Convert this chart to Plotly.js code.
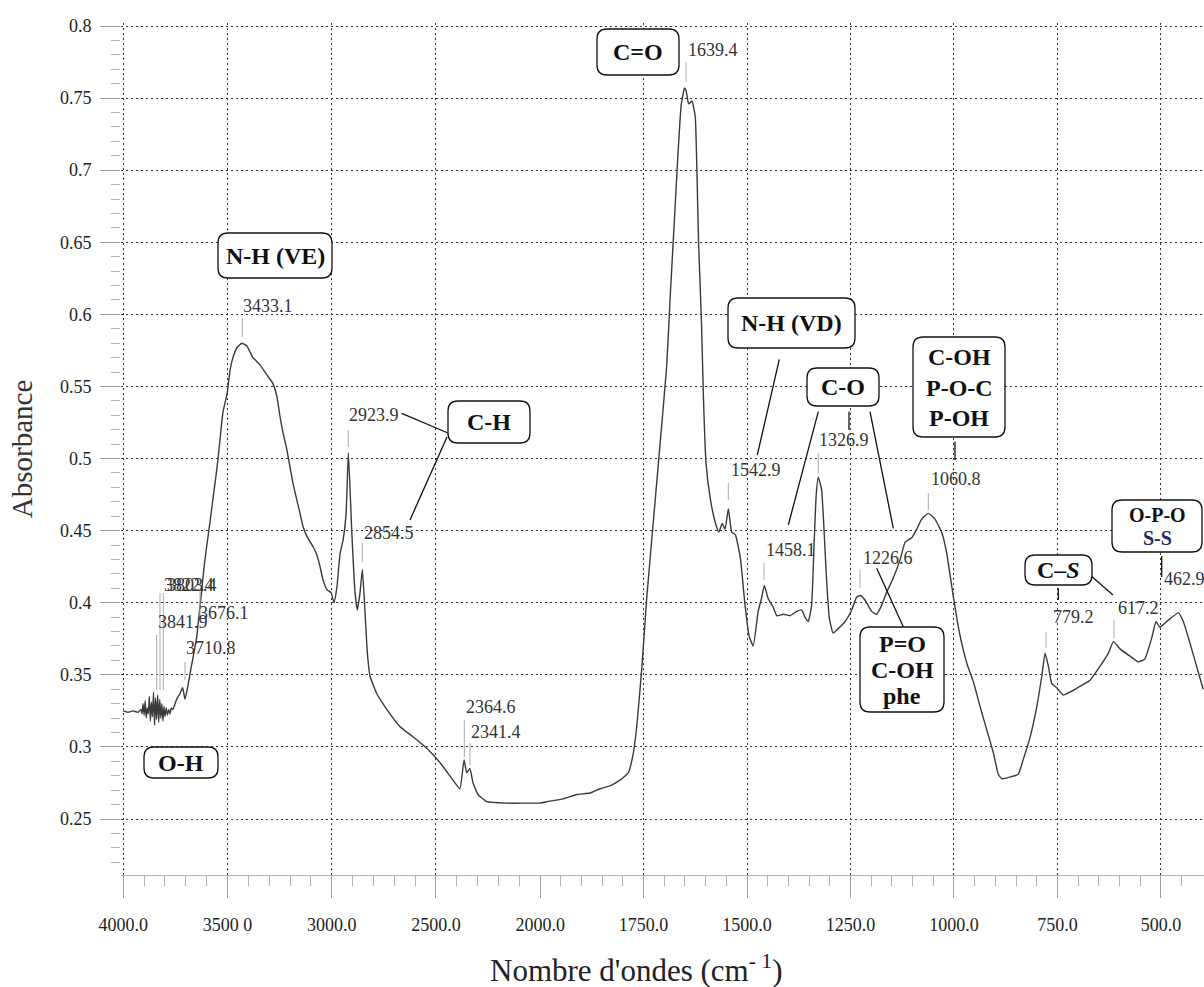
<!DOCTYPE html>
<html>
<head>
<meta charset="utf-8">
<script src="https://cdn.plot.ly/plotly-3.0.1.min.js"></script>
<style>html,body{margin:0;padding:0;background:#fff}#chart{width:1204px;height:987px}</style>
</head>
<body>
<div id="chart"></div>
<script>
// ---------------- DATA ----------------
const wavenumber = [
 4000,3977,3954,3930,3915,
 3910,3905,3900,3895,3890,3885,3880,3875,3870,3865,3860,3855,3850,3845,3840,3835,3830,3825,3820,3815,3810,3805,3800,3794,3788,3782,3776,3770,
 3762,3744,3728,3715,3704,3688,3677,3664,3648,3637,3624,3613,3600,3584,3568,3550,3536,3522,3502,3488,3474,3454,3431,3407,3378,3344,3311,3282,3263,3248,3234,3215,3200,3186,3167,3152,3138,3119,3090,3071,3056,3042,3023,3003,2989,2975,2960,2946,2931,2920,2904,2888,2877,2864,2853,2840,2829,2816,2784,2736,2672,2610,2544,2480,2418,2385,2365,2352,2337,2322,2298,2256,2160,2065,
 2000,1984,1944,1911,1879,1855,1831,1807,1787,1775,1766,1754,1742,1726,1710,1694,1685,1676,1667,1659,1651,1647,1641,1633,1625,1621,1617,1610,1605,1599,1588,1576,1568,1560,1553,1545,1537,1528,1516,1505,1495,1485,1473,1465,1458,1449,1437,1428,1412,1396,1380,1368,1360,1352,1344,1338,1333,1328,1320,1314,1308,1301,1292,1280,1263,1247,1235,1225,1213,1199,1187,1175,1163,1147,1130,1118,1102,1090,1078,1062,1046,1030,1018,1002,986,969,953,937,921,905,893,885,865,845,833,816,800,788,780,772,764,752,736,720,696,672,647,627,615,599,575,555,539,522,512,503,494,478,458,446,430,414,398
];
const absorbance = [
 0.325,0.324,0.325,0.324,0.326,
 0.323,0.330,0.322,0.332,0.320,0.327,0.323,0.335,0.318,0.331,0.321,0.338,0.315,0.334,0.319,0.336,0.317,0.333,0.320,0.330,0.318,0.328,0.321,0.327,0.322,0.326,0.323,0.327,
 0.326,0.333,0.337,0.341,0.333,0.344,0.353,0.363,0.376,0.391,0.408,0.424,0.439,0.456,0.474,0.494,0.513,0.532,0.545,0.561,0.570,0.577,0.580,0.578,0.570,0.565,0.558,0.552,0.543,0.529,0.518,0.506,0.494,0.483,0.471,0.462,0.453,0.446,0.439,0.433,0.425,0.416,0.409,0.407,0.400,0.411,0.434,0.443,0.462,0.504,0.450,0.407,0.395,0.407,0.423,0.393,0.365,0.349,0.337,0.326,0.314,0.307,0.299,0.289,0.277,0.271,0.291,0.282,0.285,0.275,0.267,0.262,0.261,0.261,
 0.261,0.262,0.264,0.267,0.268,0.271,0.273,0.277,0.282,0.295,0.315,0.355,0.404,0.457,0.510,0.564,0.615,0.662,0.710,0.745,0.757,0.755,0.746,0.748,0.737,0.700,0.650,0.595,0.540,0.497,0.471,0.455,0.449,0.455,0.451,0.465,0.449,0.447,0.431,0.399,0.377,0.370,0.394,0.403,0.412,0.403,0.397,0.391,0.392,0.391,0.394,0.395,0.390,0.387,0.398,0.440,0.474,0.487,0.479,0.451,0.417,0.389,0.379,0.382,0.387,0.395,0.404,0.405,0.401,0.394,0.392,0.398,0.407,0.417,0.430,0.442,0.445,0.451,0.458,0.462,0.458,0.449,0.435,0.405,0.378,0.358,0.345,0.328,0.312,0.296,0.281,0.278,0.279,0.281,0.291,0.307,0.328,0.349,0.365,0.356,0.344,0.341,0.336,0.338,0.342,0.346,0.356,0.365,0.373,0.368,0.363,0.359,0.361,0.376,0.387,0.383,0.385,0.389,0.393,0.387,0.372,0.356,0.340
];

const xTickVals1 = [4000, 3500, 3000, 2500, 2000];
const xTickText1 = ['4000.0', '3500 0', '3000.0', '2500.0', '2000.0'];
const xTickVals2 = [1750, 1500, 1250, 1000, 750, 500];
const xTickText2 = ['1750.0', '1500.0', '1250.0', '1000.0', '750.0', '500.0'];
const yTickVals = [0.25, 0.3, 0.35, 0.4, 0.45, 0.5, 0.55, 0.6, 0.65, 0.7, 0.75, 0.8];
const yTickText = ['0.25', '0.3', '0.35', '0.4', '0.45', '0.5', '0.55', '0.6', '0.65', '0.7', '0.75', '0.8'];

const peakLabels = ['3433.1','2923.9','2854.5','2364.6','2341.4','1639.4','1542.9','1458.1','1326.9','1226.6','1060.8','779.2','617.2','462.9','3841.9','3822.4','3803.4','3676.1','3710.8'];
const bandLabels = [['N-H (VE)'], ['C-H'], ['C=O'], ['N-H (VD)'], ['C-O'], ['C-OH','P-O-C','P-OH'], ['P=O','C-OH','phe'], ['C–<i>S</i>'], ['O-P-O','S-S'], ['O-H']];

const xTitle = "Nombre d'ondes (cm<sup>- 1</sup>)";
const yTitle = 'Absorbance';

// ---------------- GEOMETRY / STYLE ----------------
const W = 1204, H = 987, ML = 121, MR = 0, MT = 23, MB = 112;
const PW = W - ML - MR, PH = H - MT - MB;
const fx = x => (x - ML) / PW;           // design pixel -> paper
const fy = y => (H - MB - y) / PH;

const serif = 'Liberation Serif, Times New Roman, serif';

// split data at the scale change (2000 cm-1)
const leftX = [], leftY = [], rightX = [], rightY = [];
wavenumber.forEach((w, i) => {
  if (w >= 2000) { leftX.push(w); leftY.push(absorbance[i]); }
  if (w <= 2000) { rightX.push(w); rightY.push(absorbance[i]); }
});

const lineStyle = {color: '#3a3a3a', width: 1.4, shape: 'spline', smoothing: 0.4};
const traces = [
  {x: leftX, y: leftY, xaxis: 'x', yaxis: 'y', type: 'scatter', mode: 'lines', line: lineStyle, hoverinfo: 'skip'},
  {x: rightX, y: rightY, xaxis: 'x2', yaxis: 'y', type: 'scatter', mode: 'lines', line: lineStyle, hoverinfo: 'skip'}
];

const minorY = []; for (let v = 22; v <= 80; v++) if (v % 5) minorY.push(v / 100);
const minorX1 = []; for (let v = 2100; v <= 3900; v += 100) if (v % 500) minorX1.push(v);
const minorX2 = []; for (let v = 450; v <= 1950; v += 50) if (v % 250) minorX2.push(v);

const gridStyle = {showgrid: true, gridcolor: '#333', gridwidth: 1, griddash: '2px,3px'};
const xCommon = Object.assign({
  anchor: 'y', tickmode: 'array', ticks: 'outside', ticklen: 22, tickwidth: 1, tickcolor: '#a0a0a0',
  showline: true, linecolor: '#b0b0b0', linewidth: 1, zeroline: false, fixedrange: true,
  tickfont: {family: serif, size: 18, color: '#222'}, ticklabelstandoff: 11
}, gridStyle);

const layout = {
  width: W, height: H,
  margin: {l: ML, r: MR, t: MT, b: MB, pad: 0},
  paper_bgcolor: '#fff', plot_bgcolor: '#fff',
  showlegend: false,
  font: {family: serif, color: '#222', size: 18},
  xaxis: Object.assign({}, xCommon, {
    domain: [0, (542 - ML) / PW], range: [4011, 1991.1],
    tickvals: xTickVals1, ticktext: xTickText1,
    minor: {tickmode: 'array', tickvals: minorX1, ticks: 'outside', ticklen: 10, tickcolor: '#b0b0b0', showgrid: false}
  }),
  xaxis2: Object.assign({}, xCommon, {
    domain: [(540 - ML) / PW, 1], range: [2000, 396.1],
    tickvals: xTickVals2, ticktext: xTickText2,
    minor: {tickmode: 'array', tickvals: minorX2, ticks: 'outside', ticklen: 10, tickcolor: '#b0b0b0', showgrid: false}
  }),
  yaxis: Object.assign({
    anchor: 'x', range: [0.21116, 0.80208], tickmode: 'array', tickvals: yTickVals, ticktext: yTickText,
    ticks: 'outside', ticklen: 20, tickwidth: 1, tickcolor: '#a0a0a0', showline: false, zeroline: false, fixedrange: true,
    tickfont: {family: serif, size: 18, color: '#222'}, ticklabelstandoff: 5,
    minor: {tickmode: 'array', tickvals: minorY, ticks: 'outside', ticklen: 9, tickcolor: '#b0b0b0', showgrid: false},
    title: {text: yTitle, font: {family: serif, size: 29, color: '#333'}, standoff: 18}
  }, gridStyle),
  shapes: [],
  annotations: []
};

// peak labels (design pixel positions: left edge, vertical centre)
const peakLabelPos = [[242,306],[348,415],[363,533],[465,707],[470,732],[687,50],[730,470],[765,550],[818,440],[862,558],[930,479],[1052,617],[1117,608],[1163,579],[157,622],[163,585],[166,585],[198,613],[185,648]];
peakLabels.forEach((t, i) => {
  layout.annotations.push({xref: 'paper', yref: 'paper', x: fx(peakLabelPos[i][0]), y: fy(peakLabelPos[i][1]),
    xanchor: 'left', yanchor: 'middle', showarrow: false, text: t, borderpad: 0,
    font: {family: serif, size: 18, color: '#333'}});
});

// gray peak marker ticks [x, y0, y1]
const peakMarks = [[242.3,318,337],[348.3,430,447],[362.3,543,562],[464.3,720,757],[470,743,765],[686,62,82],[728.3,483,500],[764,563,580],[818.3,453,473],[860,570,588],[928.3,493,510],[1046,632,648],[1114,620,638],[156.7,635,690],[160,593,690],[163.3,593,690],[185,662,680],[200,588,620]];
peakMarks.forEach(m => layout.shapes.push({type: 'line', xref: 'paper', yref: 'paper',
  x0: fx(m[0]), x1: fx(m[0]), y0: fy(m[1]), y1: fy(m[2]), line: {color: '#ababab', width: 1}}));

// black connectors [x0,y0,x1,y1]
const connectors = [[401.7,413.3,448,433],[410,520,447,437],[779.3,359.3,757.3,455],[818.3,411.7,788.3,525],[849,411.7,849,430],[870,411.7,893.3,528.3],[876.7,568.3,903.3,626.7],[955,441.7,955,460],[1058.3,588.3,1058.3,600],[1090,575,1113,595],[1161.7,556,1161.7,577]];
connectors.forEach(c => layout.shapes.push({type: 'line', xref: 'paper', yref: 'paper',
  x0: fx(c[0]), y0: fy(c[1]), x1: fx(c[2]), y1: fy(c[3]), line: {color: '#111', width: 1.3}}));

// rounded boxes
function rrect(x0, y0, x1, y1, r) {
  const P = (x, y) => fx(x).toFixed(5) + ',' + fy(y).toFixed(5);
  return 'M' + P(x0 + r, y0) + ' L' + P(x1 - r, y0) + ' Q' + P(x1, y0) + ' ' + P(x1, y0 + r) +
    ' L' + P(x1, y1 - r) + ' Q' + P(x1, y1) + ' ' + P(x1 - r, y1) +
    ' L' + P(x0 + r, y1) + ' Q' + P(x0, y1) + ' ' + P(x0, y1 - r) +
    ' L' + P(x0, y0 + r) + ' Q' + P(x0, y0) + ' ' + P(x0 + r, y0) + ' Z';
}
const bandLayout = [
  {box: [218,233,332,278], ys: [256], cx: 275},
  {box: [448,401,530,443], ys: [422], cx: 489},
  {box: [597,29,679,75], ys: [52], cx: 638},
  {box: [728,298,855,348], ys: [323], cx: 791.5},
  {box: [807,368,879,406], ys: [387], cx: 843},
  {box: [913,337,1005,437], ys: [357,388,418], cx: 959},
  {box: [860,627,944,712], ys: [644,670,696], cx: 902},
  {box: [1025,555,1092,585], ys: [570], cx: 1058.5},
  {box: [1112,500,1202,552], ys: [515,538], cx: 1157, size: 20, colors: ['#111', '#1c2a66']},
  {box: [144,747,218,778], ys: [762.5], cx: 181}
];
bandLabels.forEach((lines, i) => {
  const b = bandLayout[i];
  layout.shapes.push({type: 'path', xref: 'paper', yref: 'paper', path: rrect(b.box[0], b.box[1], b.box[2], b.box[3], 10),
    line: {color: '#111', width: 1.3}, fillcolor: '#fff', layer: 'above'});
  lines.forEach((t, j) => {
    layout.annotations.push({xref: 'paper', yref: 'paper', x: fx(b.cx), y: fy(b.ys[j]), xanchor: 'center', yanchor: 'middle',
      showarrow: false, text: '<b>' + t + '</b>', borderpad: 0,
      font: {family: serif, size: b.size || 24, color: (b.colors ? b.colors[j] : '#111')}});
  });
});

// x axis title (spans the split axis)
layout.annotations.push({xref: 'paper', yref: 'paper', x: fx(636), y: fy(968), xanchor: 'center', yanchor: 'middle',
  showarrow: false, text: xTitle, font: {family: serif, size: 31, color: '#222'}});

Plotly.newPlot('chart', traces, layout, {staticPlot: true, displayModeBar: false});
</script>
</body>
</html>
